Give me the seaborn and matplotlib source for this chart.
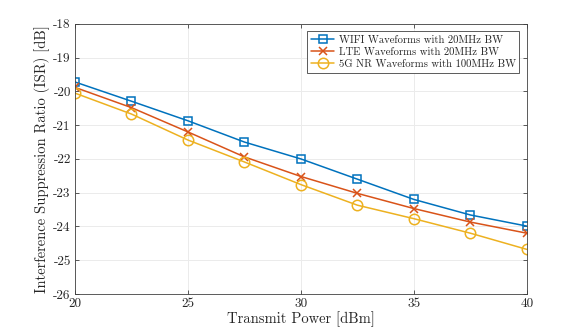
import numpy as np
import pandas as pd
import seaborn as sns
import matplotlib.pyplot as plt

power = [20, 22.5, 25, 27.5, 30, 32.5, 35, 37.5, 40]
isr_wifi = [-19.72, -20.29, -20.87, -21.50, -22.00, -22.60, -23.20, -23.66, -23.99]
isr_lte = [-19.88, -20.48, -21.20, -21.94, -22.52, -23.02, -23.47, -23.87, -24.20]
isr_5g = [-20.05, -20.67, -21.44, -22.09, -22.76, -23.37, -23.77, -24.20, -24.68]

names = ["WIFI Waveforms with 20MHz BW",
         "LTE Waveforms with 20MHz BW",
         "5G NR Waveforms with 100MHz BW"]

df = pd.concat([
    pd.DataFrame({"power": power, "isr": vals, "series": name})
    for name, vals in zip(names, [isr_wifi, isr_lte, isr_5g])
])

sns.set_style("whitegrid")
plt.rcParams["font.family"] = ["cmr10", "DejaVu Serif"]
plt.rcParams["axes.unicode_minus"] = False
plt.rcParams["mathtext.fontset"] = "cm"

colors = ["#0072BD", "#D95319", "#EDB120"]

fig = plt.figure(figsize=(5.81, 3.32), dpi=100)
ax = fig.add_axes([0.129, 0.1145, 0.778, 0.8135])

sns.lineplot(data=df, x="power", y="isr", hue="series", style="series",
             palette=colors, dashes=False, markers=False, ax=ax, linewidth=1.1)

mk = ["s", "x", "o"]
ms = [5.5, 5.5, 7.5]
for line, m, s, c in zip(ax.lines, mk, ms, colors):
    line.set_marker(m)
    line.set_markersize(s)
    line.set_markerfacecolor("none")
    line.set_markeredgecolor(c)
    line.set_markeredgewidth(1.1)

ax.set_xlim(20, 40)
ax.set_ylim(-26, -18)
ax.set_xticks([20, 25, 30, 35, 40])
ax.set_yticks(np.arange(-26, -17, 1))
ax.set_xlabel("Transmit Power [dBm]", fontsize=10.5, labelpad=1)
ax.set_ylabel("Interference Suppression Ratio (ISR) [dB]", fontsize=10.5, labelpad=2)

ax.grid(True, color="#ebebeb", linewidth=0.7)
for sp in ax.spines.values():
    sp.set_visible(True)
    sp.set_color("#404040")
    sp.set_linewidth(0.6)
ax.tick_params(direction="in", length=3, width=0.6, colors="#404040",
               labelsize=9.5, top=True, right=True, left=True, bottom=True,
               pad=3)
ax.tick_params(labelcolor="#262626")

handles, labels = ax.get_legend_handles_labels()
for h, m, s, c in zip(handles, mk, ms, colors):
    h.set_marker(m)
    h.set_markersize(s)
    h.set_markerfacecolor("none")
    h.set_markeredgecolor(c)
    h.set_markeredgewidth(1.1)
leg = ax.legend(handles, labels, loc="upper right", fontsize=7.7,
                frameon=True, fancybox=False, edgecolor="#404040",
                framealpha=1, borderaxespad=0.7, handlelength=2.2,
                labelspacing=0.25, borderpad=0.35, handletextpad=0.4)
leg.get_frame().set_linewidth(0.6)

fig.savefig("out.png", dpi=100)
